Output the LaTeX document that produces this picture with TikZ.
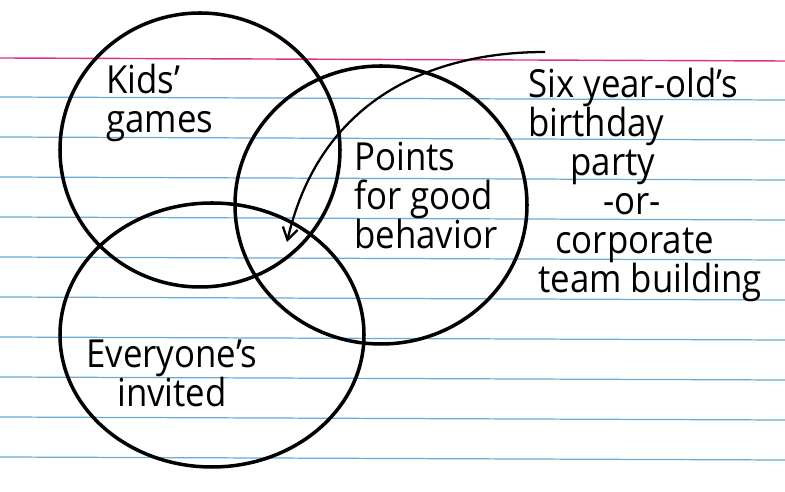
\documentclass[tikz,border=0pt]{standalone}
\usepackage{fontspec}
\setmainfont{Open Sans}[FakeStretch=0.9]
\usetikzlibrary{arrows.meta}
\definecolor{ruleblue}{RGB}{105,170,215}
\definecolor{rulepink}{RGB}{220,50,140}
\tikzset{
  ring/.style={line width=2pt},
  handtext/.style={inner sep=0pt,font=\fontsize{22}{22.2}\selectfont},
}
\begin{document}
\begin{tikzpicture}[x=0.02cm,y=-0.02cm]
  % index card, pixel units with y pointing down
  \fill[white] (0,0) rectangle (785,492);
  \useasboundingbox (0,0) rectangle (785,492);
  \draw[rulepink,line width=0.8pt] (0,58) -- (785,61);
  \foreach \yy in {97,137,...,457}
    \draw[ruleblue,line width=0.7pt] (0,\yy) -- (785,\yy+3);
  % the three sets
  \draw[ring] (200,150) ellipse [x radius=140,y radius=137];
  \draw[ring] (381,205) ellipse [x radius=146,y radius=139];
  \draw[ring] (212,335) ellipse [x radius=152,y radius=132];
  % labels
  \node[handtext,anchor=north west,align=left] (kids) at (106,64) {Kids'\\games};
  \node[handtext,anchor=north west,align=left] (points) at (354,142) {Points\\for good\\behavior};
  \node[handtext,anchor=north,align=center] (everyone) at (172,340) {Everyone's\\invited};
  \node[handtext,anchor=north west,align=left] (event) at (528,68)
    {Six year-old's\\birthday\\\hspace*{0.84cm}party\\\hspace*{1.5cm}-or-\\\hspace*{0.54cm}corporate\\\hspace*{0.2cm}team building};
  % pointer into the middle
  \coordinate (penstart) at (545,52);
  \coordinate (overlap) at (287,242);
  \draw[line width=1.3pt,-{Straight Barb[length=2.4mm,width=3mm]}]
    (penstart) .. controls (430,52) and (320,100) .. (overlap);
\end{tikzpicture}
\end{document}
